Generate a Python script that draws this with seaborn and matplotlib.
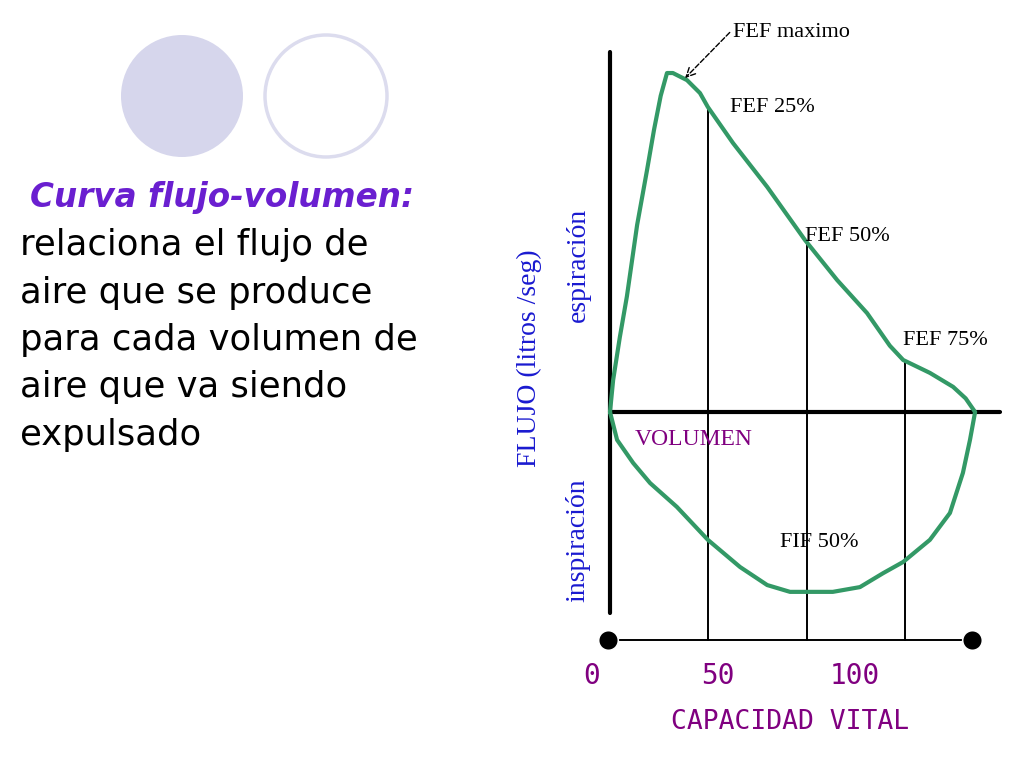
import numpy as np
import pandas as pd
import seaborn as sns
import matplotlib.pyplot as plt
from matplotlib.patches import Circle

# curva flujo-volumen: volumen (% capacidad vital) y flujo (l/s)
esp_vol = [0, 0.8, 2.5, 4.3, 6.9, 9.4, 11.2, 12.9, 14.5, 16.0, 19.6, 22.9, 24.9,
           31.3, 40.0, 49.6, 57.8, 65.4, 71.2, 74.6, 81.4, 87.3, 90.5, 92.9]
esp_flujo = [0, 0.94, 2.2, 3.4, 5.5, 7.1, 8.3, 9.3, 9.97, 9.97, 9.76, 9.38, 8.97,
             7.91, 6.62, 5.06, 3.88, 2.91, 1.95, 1.53, 1.15, 0.74, 0.4, 0]
ins_vol = [92.9, 91.6, 89.8, 86.5, 81.4, 74.6, 69.5, 63.6, 56.7, 45.8, 40.0,
           33.1, 24.9, 17.0, 10.2, 5.9, 1.8, 0]
ins_flujo = [0, -0.82, -1.79, -2.97, -3.76, -4.41, -4.74, -5.15, -5.29, -5.29,
             -5.09, -4.56, -3.76, -2.79, -2.09, -1.5, -0.82, 0]

fef_vol = [25, 50, 75]
fef_labels = ['FEF 25%', 'FEF 50%', 'FEF 75%']
tick_labels = ['0', '50', '100']
tick_pos = [-4.6, 27.5, 62.3]
cv_total = 92.1

sns.set_style('white')
plt.rcParams['font.family'] = ['DejaVu Sans']
plt.rcParams['text.color'] = 'black'

fig = plt.figure(figsize=(10.24, 7.68), dpi=100)

# circulos decorativos y texto de la diapositiva
bg = fig.add_axes([0, 0, 1, 1])
bg.set_xlim(0, 1024)
bg.set_ylim(768, 0)
bg.axis('off')
bg.add_patch(Circle((182, 96), 61, fc='#d6d6ec', ec='none'))
bg.add_patch(Circle((326, 96), 61, fc='white', ec='#dcdcee', lw=2.5))

bg.text(30, 198, 'Curva flujo-volumen:', color='#6a1fd0', fontsize=23.5,
        fontweight='bold', fontstyle='italic', va='center', ha='left')
lineas = ['relaciona el flujo de', 'aire que se produce', 'para cada volumen de',
          'aire que va siendo', 'expulsado']
for i, t in enumerate(lineas):
    bg.text(20, 245 + i * 47.5, t, color='black', fontsize=25.5, va='center', ha='left')

# grafico
ax = fig.add_axes([0.5, 0, 0.5, 1])
df = pd.DataFrame({'vol': esp_vol + ins_vol, 'flujo': esp_flujo + ins_flujo})
sns.lineplot(data=df, x='vol', y='flujo', sort=False, estimator=None,
             color='#339966', lw=3, ax=ax, zorder=3)

ax.set_xlim((512 - 610) / 3.93, (1024 - 610) / 3.93)
ax.set_ylim((412 - 768) / 34, 412 / 34)
ax.axis('off')

y_base = -6.71
ax.plot([0, 0], [10.59, -5.91], color='black', lw=3, zorder=2)
ax.plot([0, 99.2], [0, 0], color='black', lw=3, zorder=2)
ax.plot([-0.5, cv_total], [y_base, y_base], color='black', lw=1.4, zorder=2)
sns.scatterplot(x=[-0.5, cv_total], y=[y_base, y_base], color='black', s=200, ax=ax, zorder=4)

for v, lab, dx, dy in zip(fef_vol, fef_labels, [5.5, -0.5, -0.5], [0, 0.15, 0.6]):
    top = np.interp(v, esp_vol, esp_flujo)
    ax.plot([v, v], [top, y_base], color='black', lw=1.4, zorder=2)
    ax.text(v + dx, top + dy, lab, family='Liberation Serif', fontsize=16,
            va='center', ha='left')

ax.annotate('FEF maximo', xy=(19.1, 9.82), xytext=(31.3, 11.15),
            family='Liberation Serif', fontsize=16, va='center', ha='left',
            arrowprops=dict(arrowstyle='->', color='black', lw=1, ls='--',
                            shrinkA=0, shrinkB=0, relpos=(0, 0.7)))
ax.text(43.3, -3.85, 'FIF 50%', family='Liberation Serif', fontsize=16, va='center')
ax.text(6.4, -0.82, 'VOLUMEN', family='Liberation Serif', fontsize=17,
        color='#800080', va='center')

for p, t in zip(tick_pos, tick_labels):
    ax.text(p, -7.76, t, family='DejaVu Sans Mono', fontsize=20, color='#800080',
            ha='center', va='center')
ax.text(45.8, -9.12, 'CAPACIDAD VITAL', family='DejaVu Sans Mono', fontsize=19,
        color='#800080', ha='center', va='center')

ax.text(-20.4, 1.59, 'FLUJO (litros /seg)', family='Liberation Serif', fontsize=20,
        color='#1a1ad0', rotation=90, ha='center', va='center')
ax.text(-8.1, 4.32, 'espiración', family='Liberation Serif', fontsize=20,
        color='#1a1ad0', rotation=90, ha='center', va='center')
ax.text(-8.1, -3.76, 'inspiración', family='Liberation Serif', fontsize=20,
        color='#1a1ad0', rotation=90, ha='center', va='center')

fig.savefig('out.png', dpi=100)
